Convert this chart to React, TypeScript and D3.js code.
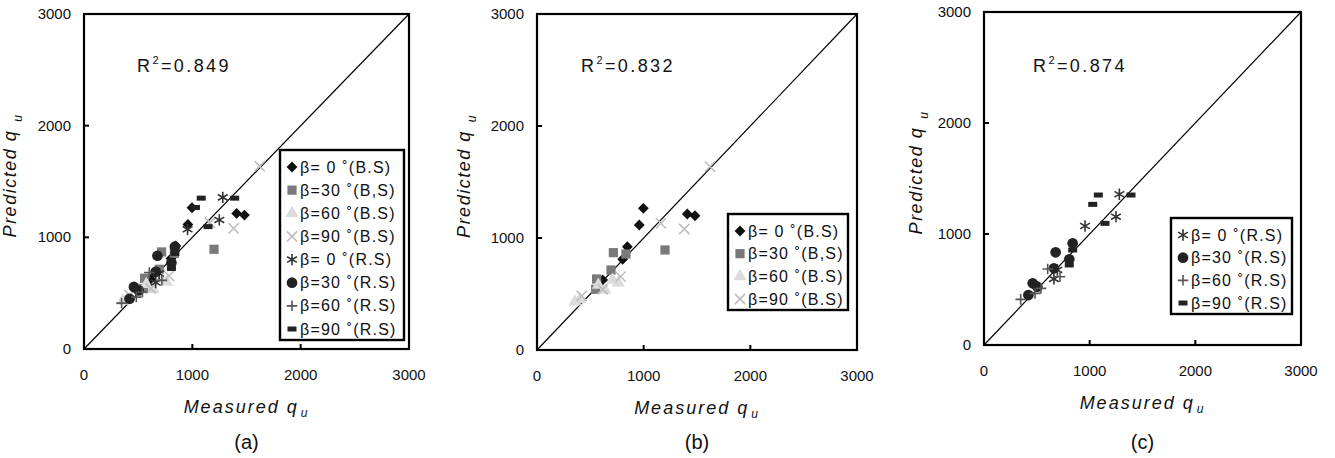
import React from 'react'
import * as d3 from 'd3'

const bs0 = [[997, 1265], [959, 1116], [1409, 1214], [1481, 1199], [847, 922], [803, 810], [616, 625]]
const bs30 = [[716, 869], [834, 857], [1200, 893], [694, 714], [559, 634], [550, 542]]
const bs60 = [[709, 625], [762, 601], [638, 536], [575, 580], [356, 431], [403, 452]]
const bs90 = [[1622, 1637], [1162, 1131], [1381, 1080], [784, 655], [616, 542], [419, 482]]
const rs0 = [[1281, 1358], [1249, 1156], [956, 1072], [662, 595], [694, 676]]
const rs30 = [[678, 835], [839, 916], [807, 772], [662, 691], [461, 556], [420, 450], [505, 525]]
const rs60 = [[603, 685], [719, 615], [539, 510], [483, 465], [347, 411]]
const rs90 = [[1082, 1351], [1029, 1267], [1391, 1351], [1145, 1096], [839, 856], [807, 721]]

const ticks = [0, 1000, 2000, 3000]
const rSquared = ['0.849', '0.832', '0.874']
const panelNames = ['(a)', '(b)', '(c)']

const series = [
  { label: 'β= 0 ˚(B.S)', shape: 'diamond', color: '#111', data: bs0 },
  { label: 'β=30 ˚(B,S)', shape: 'square', color: '#7a7a7a', data: bs30 },
  { label: 'β=60 ˚(B.S)', shape: 'triangle', color: '#dcdcdc', data: bs60 },
  { label: 'β=90 ˚(B.S)', shape: 'x', color: '#bdbdbd', data: bs90 },
  { label: 'β= 0 ˚(R.S)', shape: 'asterisk', color: '#333', data: rs0 },
  { label: 'β=30 ˚(R.S)', shape: 'circle', color: '#222', data: rs30 },
  { label: 'β=60 ˚(R.S)', shape: 'plus', color: '#555', data: rs60 },
  { label: 'β=90 ˚(R.S)', shape: 'dash', color: '#222', data: rs90 }
]

const panels = [
  { box: [84, 14, 409, 349], show: [0, 1, 2, 3, 4, 5, 6, 7], rx: 137, legend: [280, 150, 404, 340], yTitle: 16 },
  { box: [537, 14, 857, 350], show: [0, 1, 2, 3], rx: 581, legend: [728, 214, 848, 310], yTitle: 470 },
  { box: [984, 12, 1301, 345], show: [4, 5, 6, 7], rx: 1033, legend: [1171, 218, 1292, 314], yTitle: 922 }
]

const font = 'Liberation Sans, Arial, sans-serif'

function Marker ({ shape, color, x, y }) {
  const t = `translate(${x},${y})`
  if (shape === 'dash') {
    return <rect x={x - 4.5} y={y - 2.5} width={9} height={5} fill={color} />
  }
  if (shape === 'x' || shape === 'plus' || shape === 'asterisk') {
    const type = shape === 'x' ? d3.symbolX : shape === 'plus' ? d3.symbolPlus : d3.symbolAsterisk
    const size = { x: 70, plus: 38, asterisk: 90 }[shape]
    return <path transform={t} d={d3.symbol(type, size)()} fill='none' stroke={color} strokeWidth={1.6} />
  }
  const type = {
    diamond: d3.symbolDiamond2,
    square: d3.symbolSquare,
    triangle: d3.symbolTriangle,
    circle: d3.symbolCircle
  }[shape]
  const size = { diamond: 75, square: 85, triangle: 75, circle: 90 }[shape]
  return <path transform={t} d={d3.symbol(type, size)()} fill={color} />
}

function Panel ({ p, idx }) {
  const [l, t, r, b] = p.box
  const x = d3.scaleLinear().domain([0, 3000]).range([l, r])
  const y = d3.scaleLinear().domain([0, 3000]).range([b, t])
  const [ll, lt, lr, lb] = p.legend
  const rowGap = (lb - lt - 28) / (p.show.length - 1)
  const cx = (l + r) / 2
  const cy = (t + b) / 2
  return (
    <g fontFamily={font}>
      <line x1={x(0)} y1={y(0)} x2={x(3000)} y2={y(3000)} stroke='#000' strokeWidth={1.2} />
      {p.show.map(si => (
        <g key={si}>
          {series[si].data.map((d, i) => (
            <Marker key={i} shape={series[si].shape} color={series[si].color} x={x(d[0])} y={y(d[1])} />
          ))}
        </g>
      ))}
      <rect x={l} y={t} width={r - l} height={b - t} fill='none' stroke='#000' strokeWidth={2.2} />
      {ticks.slice(1, 3).map(v => (
        <g key={v}>
          <line x1={x(v)} x2={x(v)} y1={b} y2={b - 5} stroke='#000' strokeWidth={2} />
          <line x1={l} x2={l + 5} y1={y(v)} y2={y(v)} stroke='#000' strokeWidth={2} />
        </g>
      ))}
      {ticks.map(v => (
        <g key={v} fontSize={15} fill='#111'>
          <text x={x(v)} y={b + 31} textAnchor='middle'>{v}</text>
          <text x={l - 13} y={y(v) + 5} textAnchor='end'>{v}</text>
        </g>
      ))}
      <text x={p.rx} y={72} fontSize={18} letterSpacing={2.4} fill='#111'>
        R<tspan dy={-8} fontSize={11}>2</tspan><tspan dy={8}>={rSquared[idx]}</tspan>
      </text>
      <text x={cx} y={b + 64} fontSize={18} fontStyle='italic' textAnchor='middle' letterSpacing={2} fill='#111'>
        Measured q<tspan dx={2} dy={4} fontSize={12}>u</tspan>
      </text>
      <text transform={`translate(${p.yTitle},${cy - 6}) rotate(-90)`} fontSize={18} fontStyle='italic' textAnchor='middle' letterSpacing={1.5} fill='#111'>
        Predicted q<tspan dx={8} dy={6} fontSize={12}>u</tspan>
      </text>
      <text x={cx} y={449} fontSize={20} textAnchor='middle' fill='#111'>{panelNames[idx]}</text>
      <rect x={ll} y={lt} width={lr - ll} height={lb - lt} fill='#fff' stroke='#000' strokeWidth={2.4} />
      {p.show.map((si, i) => {
        const ry = lt + 17 + i * rowGap
        return (
          <g key={si}>
            <Marker shape={series[si].shape} color={series[si].color} x={ll + 12} y={ry} />
            <text x={ll + 20} y={ry + 5.5} fontSize={16} letterSpacing={1.2} fill='#111'>{series[si].label}</text>
          </g>
        )
      })}
    </g>
  )
}

export default function App () {
  return (
    <svg width={1335} height={458} style={{ position: 'absolute', left: 0, top: 0, background: '#fff' }}>
      {panels.map((p, i) => <Panel key={i} p={p} idx={i} />)}
    </svg>
  )
}
